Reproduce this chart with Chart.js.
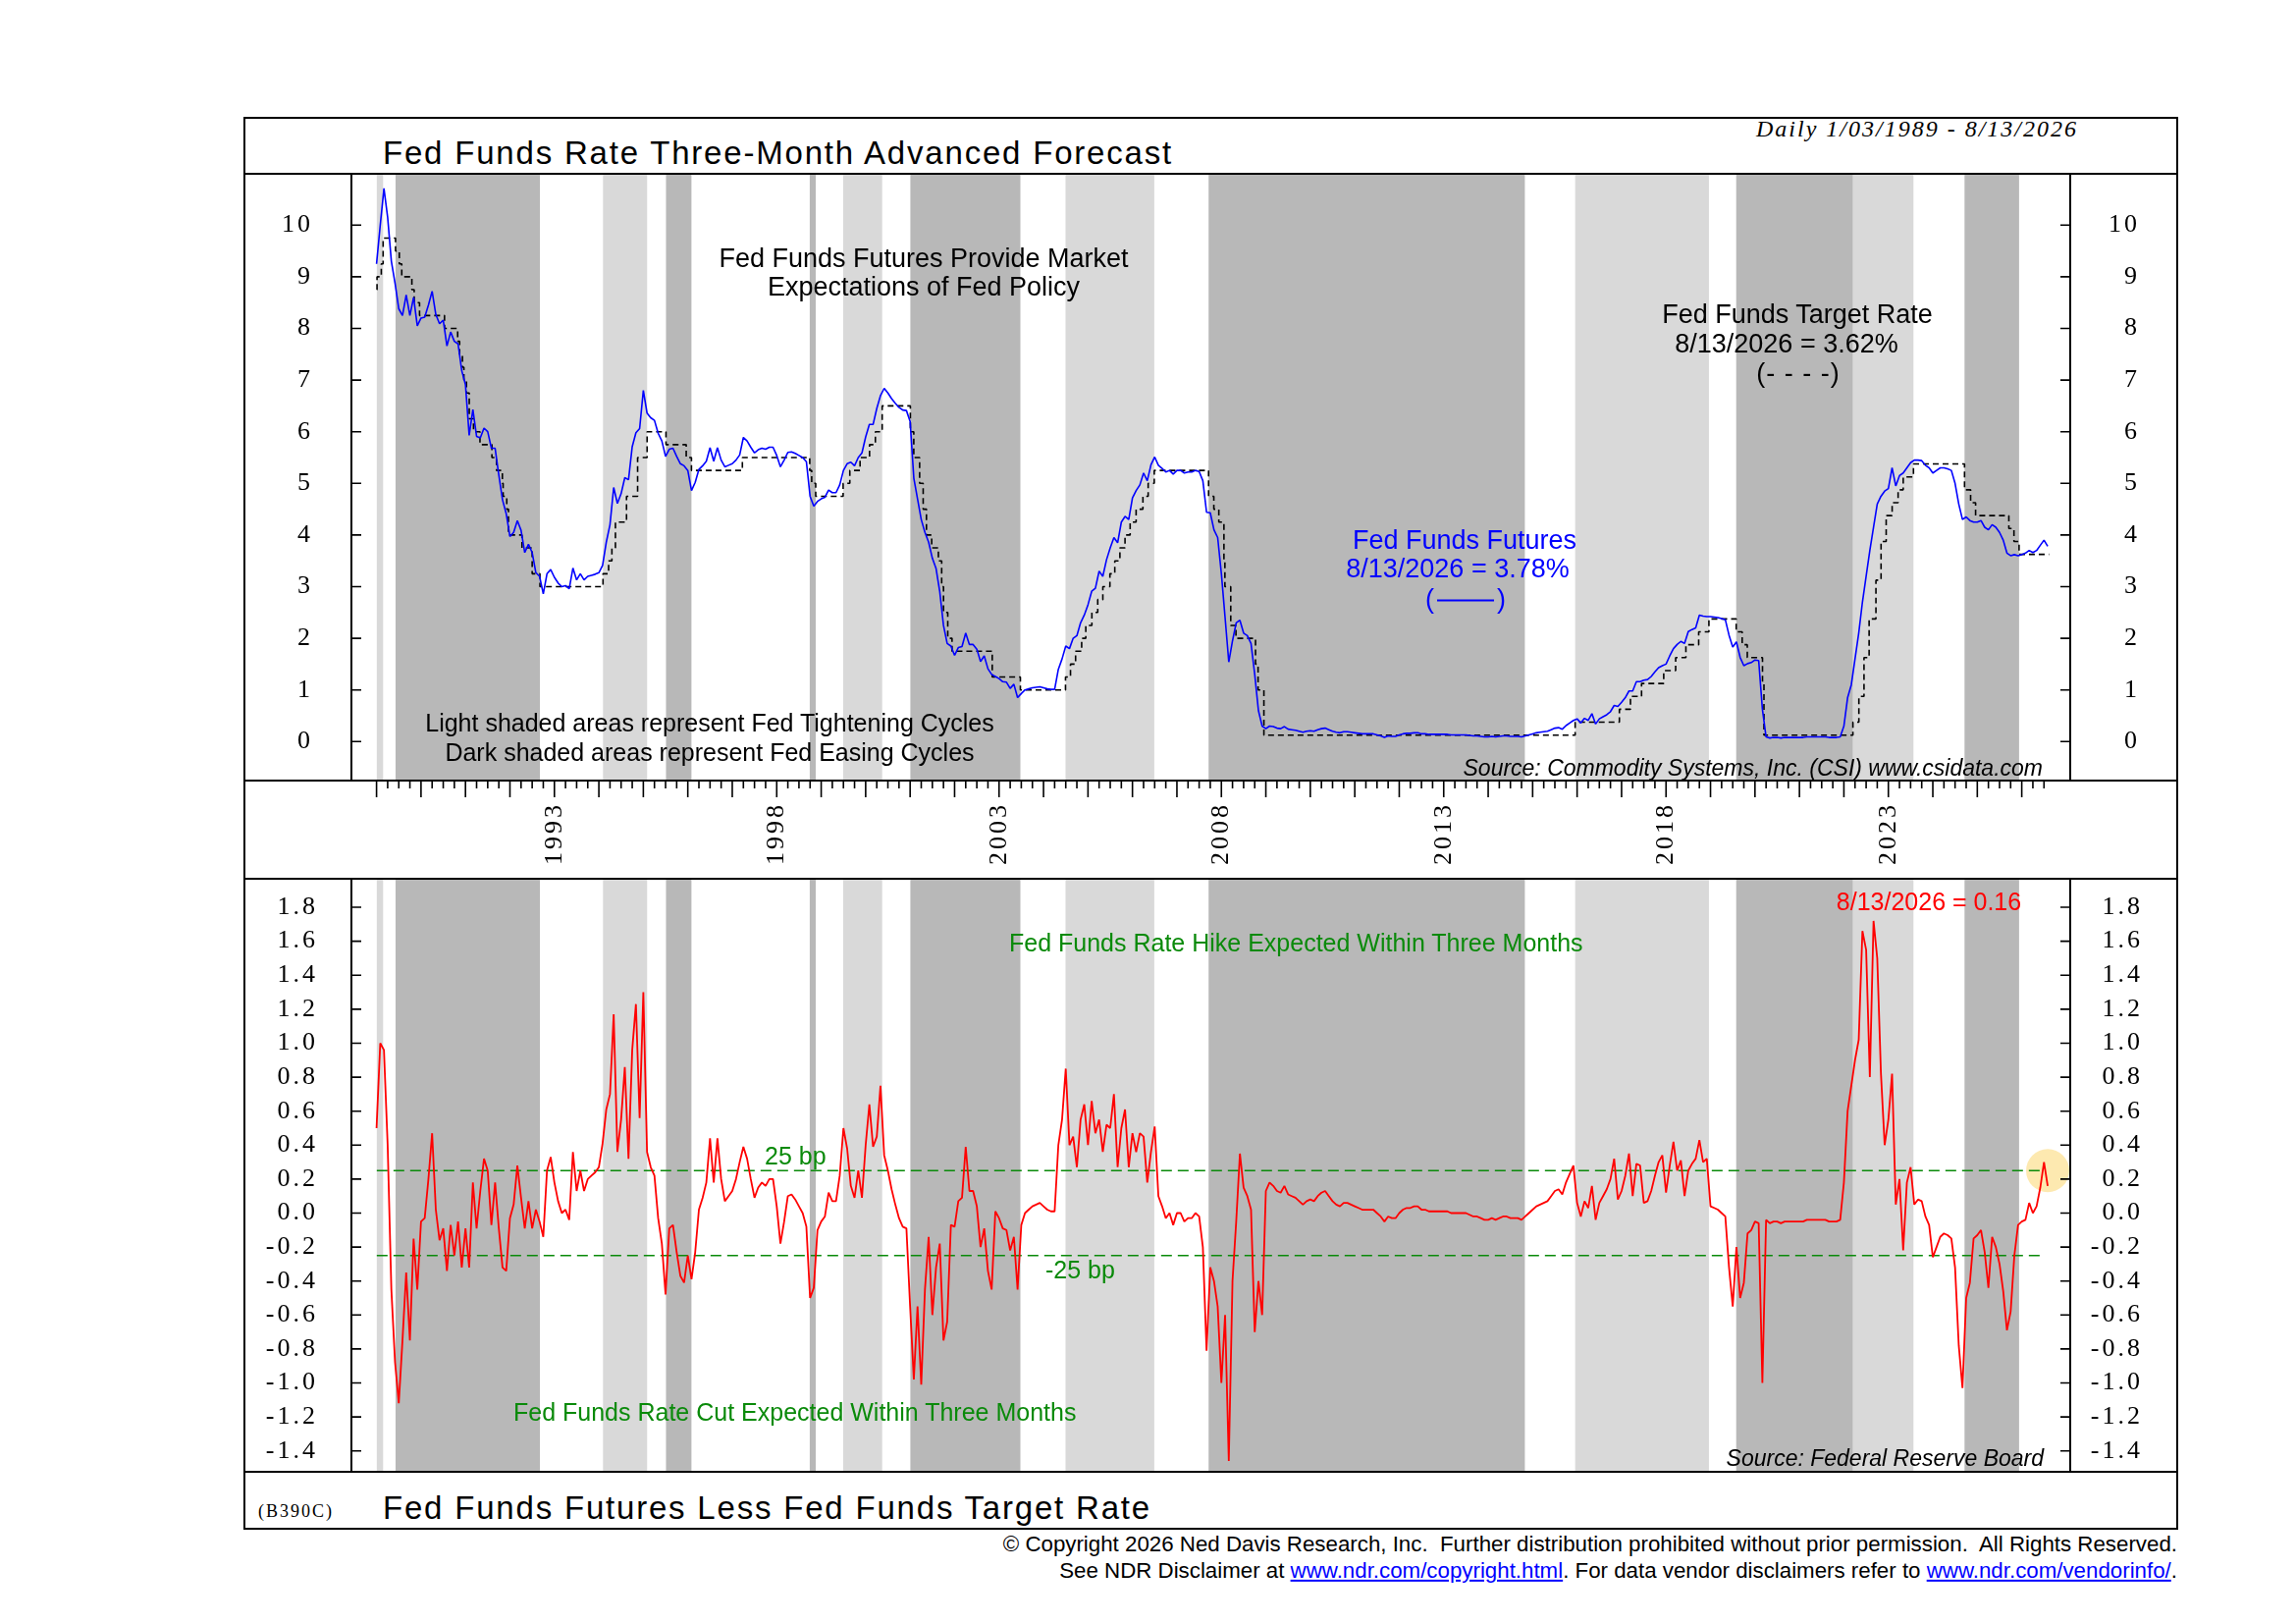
<!DOCTYPE html>
<html><head><meta charset="utf-8">
<script src="https://cdn.jsdelivr.net/npm/chart.js@4.4.1/dist/chart.umd.min.js"></script>
<style>
html,body{margin:0;padding:0;background:#fff;}
#page{position:relative;width:2339px;height:1653px;overflow:hidden;background:#fff;font-family:"Liberation Sans",Arial,sans-serif;color:#000;}
canvas{position:absolute;z-index:1;}
.ln{position:absolute;background:#000;z-index:3;}
.t{position:absolute;white-space:pre;line-height:1;z-index:4;}
.a-c{transform:translate(-50%,-50%);}
.a-r{transform:translate(-100%,-50%);}
.a-l{transform:translate(0,-50%);}
a{color:#0000ff;text-decoration:underline;}
</style></head><body><div id="page">
<canvas id="cTop" width="1969" height="718" style="left:249px;top:177px;width:1969px;height:718px"></canvas>
<canvas id="cBot" width="1969" height="604" style="left:249px;top:895px;width:1969px;height:604px"></canvas>
</div>
<script>
// ---------------- DATA ----------------
const startYear = 1989;          // monthly series start (Jan 1989)
const endDate = '2026-08-13';

// Fed Funds Futures (blue), monthly Jan 1989 .. Aug 2026
const futuresValues = [
9.25,10.00,10.71,10.15,9.30,8.87,8.38,8.25,8.65,8.25,8.60,8.05,
8.20,8.22,8.45,8.72,8.27,8.09,8.16,7.66,7.93,7.75,7.70,7.18,
6.91,5.93,6.43,5.91,5.88,6.07,6.00,5.68,5.68,5.16,4.68,4.41,
3.97,4.05,4.28,4.09,3.66,3.82,3.66,3.27,3.20,2.86,3.25,3.33,
3.18,3.07,3.00,3.02,2.96,3.36,3.13,3.25,3.13,3.20,3.22,3.24,
3.27,3.41,3.86,4.20,4.92,4.61,4.80,5.11,5.07,5.71,5.98,6.06,
6.80,6.36,6.27,6.22,5.97,5.82,5.52,5.66,5.68,5.52,5.38,5.34,
5.25,4.86,5.02,5.27,5.34,5.43,5.69,5.43,5.69,5.45,5.32,5.35,
5.38,5.45,5.55,5.89,5.82,5.70,5.59,5.65,5.68,5.66,5.70,5.70,
5.54,5.32,5.45,5.60,5.61,5.58,5.54,5.50,5.42,4.75,4.56,4.65,
4.70,4.73,4.87,4.82,4.82,4.97,5.25,5.38,5.41,5.34,5.50,5.59,
5.90,6.14,6.14,6.45,6.70,6.84,6.75,6.64,6.55,6.47,6.42,6.41,
6.20,5.10,4.70,4.30,4.05,3.86,3.55,3.35,2.90,2.25,1.90,1.85,
1.67,1.82,1.84,2.10,1.88,1.88,1.79,1.55,1.66,1.41,1.30,1.26,
1.22,1.16,1.15,1.03,1.11,0.85,0.93,1.00,1.02,1.04,1.05,1.06,
1.04,1.02,1.01,1.01,1.40,1.60,1.85,1.80,2.00,2.05,2.30,2.45,
2.65,2.91,2.97,3.30,3.20,3.52,3.75,3.95,3.85,4.25,4.36,4.30,
4.72,4.86,4.97,5.20,5.05,5.36,5.51,5.35,5.29,5.22,5.25,5.18,
5.25,5.25,5.20,5.22,5.22,5.25,5.23,5.05,4.44,4.43,4.10,3.95,
3.25,2.40,1.54,1.95,2.30,2.35,2.10,2.05,1.90,1.30,0.60,0.30,
0.25,0.30,0.29,0.26,0.25,0.29,0.24,0.23,0.22,0.20,0.18,0.20,
0.21,0.20,0.23,0.25,0.26,0.23,0.20,0.18,0.17,0.19,0.19,0.18,
0.17,0.16,0.15,0.15,0.15,0.15,0.13,0.11,0.08,0.11,0.10,0.10,
0.13,0.15,0.16,0.16,0.17,0.17,0.15,0.15,0.14,0.14,0.14,0.14,
0.14,0.14,0.13,0.13,0.13,0.13,0.13,0.12,0.11,0.11,0.10,0.09,
0.09,0.10,0.09,0.10,0.11,0.11,0.10,0.10,0.10,0.09,0.11,0.13,
0.15,0.17,0.18,0.19,0.20,0.23,0.26,0.27,0.24,0.31,0.36,0.41,
0.44,0.36,0.45,0.41,0.54,0.34,0.44,0.48,0.52,0.58,0.70,0.68,
0.76,0.85,0.98,0.98,1.16,1.16,1.19,1.20,1.26,1.35,1.43,1.47,
1.50,1.66,1.80,1.88,1.94,1.90,2.13,2.17,2.20,2.45,2.43,2.42,
2.42,2.41,2.40,2.38,2.36,2.06,1.83,1.93,1.63,1.47,1.51,1.53,
1.58,1.57,0.63,0.09,0.07,0.08,0.08,0.07,0.08,0.08,0.08,0.08,
0.08,0.08,0.09,0.09,0.09,0.09,0.09,0.09,0.08,0.08,0.08,0.09,
0.30,0.85,1.10,1.60,2.10,2.70,3.20,3.70,4.15,4.60,4.75,4.85,
4.90,5.30,4.95,5.15,5.20,5.30,5.40,5.45,5.45,5.44,5.35,5.30,
5.20,5.25,5.30,5.30,5.28,5.25,5.00,4.60,4.30,4.35,4.28,4.25,
4.25,4.28,4.15,4.10,4.20,4.15,4.05,3.90,3.65,3.60,3.62,3.60,
3.62,3.65,3.70,3.66,3.70,3.80,3.90,3.78
];

// Fed Funds Futures less Target Rate (red), monthly Jan 1989 .. Aug 2026
const diffValues = [
0.50,1.00,0.96,0.40,-0.45,-0.88,-1.12,-0.75,-0.35,-0.75,-0.15,-0.45,
-0.05,-0.03,0.20,0.47,0.02,-0.16,-0.09,-0.34,-0.07,-0.25,-0.05,-0.32,
-0.09,-0.32,0.18,-0.09,0.13,0.32,0.25,-0.07,0.18,-0.09,-0.32,-0.34,
-0.03,0.05,0.28,0.09,-0.09,0.07,-0.09,0.02,-0.05,-0.14,0.25,0.33,
0.18,0.07,0.00,0.02,-0.04,0.36,0.13,0.25,0.13,0.20,0.22,0.24,
0.27,0.41,0.61,0.70,1.17,0.36,0.55,0.86,0.32,0.96,1.23,0.56,
1.30,0.36,0.27,0.22,-0.03,-0.18,-0.48,-0.09,-0.07,-0.23,-0.37,-0.41,
-0.25,-0.39,-0.23,0.02,0.09,0.18,0.44,0.18,0.44,0.20,0.07,0.10,
0.13,0.20,0.30,0.39,0.32,0.20,0.09,0.15,0.18,0.16,0.20,0.20,
0.04,-0.18,-0.05,0.10,0.11,0.08,0.04,0.00,-0.08,-0.50,-0.44,-0.10,
-0.05,-0.02,0.12,0.07,0.07,0.22,0.50,0.38,0.16,0.09,0.25,0.09,
0.40,0.64,0.39,0.45,0.75,0.34,0.25,0.14,0.05,-0.03,-0.08,-0.09,
-0.55,-0.98,-0.55,-1.01,-0.45,-0.14,-0.60,-0.32,-0.18,-0.75,-0.64,-0.07,
-0.08,0.07,0.09,0.39,0.13,0.13,0.04,-0.20,-0.09,-0.34,-0.45,0.01,
-0.03,-0.09,-0.10,-0.22,-0.14,-0.45,-0.07,0.00,0.02,0.04,0.05,0.06,
0.04,0.02,0.01,0.01,0.40,0.55,0.85,0.40,0.45,0.27,0.55,0.64,
0.40,0.66,0.47,0.55,0.36,0.52,0.50,0.70,0.27,0.50,0.61,0.27,
0.47,0.36,0.47,0.45,0.18,0.36,0.51,0.10,0.04,-0.03,0.00,-0.07,
0.00,0.00,-0.05,-0.03,-0.03,0.00,-0.02,-0.20,-0.81,-0.32,-0.40,-0.55,
-1.00,-0.60,-1.46,-0.40,-0.05,0.35,0.15,0.10,0.02,-0.70,-0.40,-0.60,
0.13,0.18,0.16,0.13,0.12,0.16,0.11,0.10,0.09,0.07,0.05,0.07,
0.08,0.07,0.10,0.12,0.13,0.10,0.07,0.05,0.04,0.06,0.06,0.05,
0.04,0.03,0.02,0.02,0.02,0.02,0.00,-0.02,-0.05,-0.02,-0.03,-0.03,
0.00,0.02,0.03,0.03,0.04,0.04,0.02,0.02,0.01,0.01,0.01,0.01,
0.01,0.01,0.00,0.00,0.00,0.00,0.00,-0.01,-0.02,-0.02,-0.03,-0.04,
-0.04,-0.03,-0.04,-0.03,-0.02,-0.02,-0.03,-0.03,-0.03,-0.04,-0.02,0.00,
0.02,0.04,0.05,0.06,0.07,0.10,0.13,0.14,0.11,0.18,0.23,0.28,
0.06,-0.02,0.07,0.03,0.16,-0.04,0.06,0.10,0.14,0.20,0.32,0.08,
0.13,0.22,0.35,0.10,0.29,0.28,0.06,0.07,0.13,0.22,0.30,0.34,
0.12,0.28,0.42,0.25,0.31,0.10,0.25,0.29,0.32,0.43,0.30,0.32,
0.04,0.03,0.02,0.00,-0.02,-0.32,-0.55,-0.20,-0.50,-0.41,-0.12,-0.10,
-0.05,-0.06,-1.00,-0.04,-0.06,-0.05,-0.05,-0.06,-0.05,-0.05,-0.05,-0.05,
-0.05,-0.05,-0.04,-0.04,-0.04,-0.04,-0.04,-0.04,-0.05,-0.05,-0.05,-0.04,
0.18,0.60,0.75,0.90,1.02,1.66,1.55,0.80,1.72,1.50,0.82,0.40,
0.55,0.82,0.05,0.20,-0.22,0.18,0.27,0.05,0.08,0.07,-0.02,-0.07,
-0.26,-0.20,-0.14,-0.12,-0.13,-0.15,-0.32,-0.78,-1.03,-0.50,-0.41,-0.15,
-0.13,-0.10,-0.23,-0.44,-0.14,-0.20,-0.30,-0.46,-0.69,-0.58,-0.25,-0.07,
-0.05,-0.04,0.06,0.00,0.04,0.15,0.30,0.16
];

// Fed Funds Target Rate (dashed step line): effective dates and levels
const targetDates = ['1989-01-03','1989-01-05','1989-02-09','1989-02-24','1989-06-06','1989-07-07','1989-07-27','1989-10-18','1989-11-06','1989-12-20',
'1990-07-13','1990-10-29','1990-11-14','1990-12-07','1990-12-19','1991-01-09','1991-02-01','1991-03-08','1991-04-30','1991-08-06','1991-09-13',
'1991-10-31','1991-11-06','1991-12-06','1991-12-20','1992-04-09','1992-07-02','1992-09-04','1994-02-04','1994-03-22','1994-04-18','1994-05-17',
'1994-08-16','1994-11-15','1995-02-01','1995-07-06','1995-12-19','1996-01-31','1997-03-25','1998-09-29','1998-10-15','1998-11-17','1999-06-30',
'1999-08-24','1999-11-16','2000-02-02','2000-03-21','2000-05-16','2001-01-03','2001-01-31','2001-03-20','2001-04-18','2001-05-15','2001-06-27',
'2001-08-21','2001-09-17','2001-10-02','2001-11-06','2001-12-11','2002-11-06','2003-06-25','2004-06-30','2004-08-10','2004-09-21','2004-11-10',
'2004-12-14','2005-02-02','2005-03-22','2005-05-03','2005-06-30','2005-08-09','2005-09-20','2005-11-01','2005-12-13','2006-01-31','2006-03-28',
'2006-05-10','2006-06-29','2007-09-18','2007-10-31','2007-12-11','2008-01-22','2008-01-30','2008-03-18','2008-04-30','2008-10-08','2008-10-29',
'2008-12-16','2015-12-16','2016-12-14','2017-03-15','2017-06-14','2017-12-13','2018-03-21','2018-06-13','2018-09-26','2018-12-19','2019-07-31',
'2019-09-18','2019-10-30','2020-03-03','2020-03-15','2022-03-16','2022-05-04','2022-06-15','2022-07-27','2022-09-21','2022-11-02','2022-12-14',
'2023-02-01','2023-03-22','2023-05-03','2023-07-26','2024-09-18','2024-11-07','2024-12-18','2025-09-17','2025-10-29','2025-12-10','2026-08-13'];
const targetRates = [8.75,9.00,9.25,9.75,9.50,9.25,9.00,8.75,8.50,8.25,
8.00,7.75,7.50,7.25,7.00,6.75,6.25,6.00,5.75,5.50,5.25,
5.00,4.75,4.50,4.00,3.75,3.25,3.00,3.25,3.50,3.75,4.25,
4.75,5.50,6.00,5.75,5.50,5.25,5.50,5.25,5.00,4.75,5.00,
5.25,5.50,5.75,6.00,6.50,6.00,5.50,5.00,4.50,4.00,3.75,
3.50,3.00,2.50,2.00,1.75,1.25,1.00,1.25,1.50,1.75,2.00,
2.25,2.50,2.75,3.00,3.25,3.50,3.75,4.00,4.25,4.50,4.75,
5.00,5.25,4.75,4.50,4.25,3.50,3.00,2.25,2.00,1.50,1.00,
0.125,0.375,0.625,0.875,1.125,1.375,1.625,1.875,2.125,2.375,2.125,
1.875,1.625,1.125,0.125,0.375,0.875,1.625,2.375,3.125,3.875,4.375,
4.625,4.875,5.125,5.375,4.875,4.625,4.375,4.125,3.875,3.625,3.625];

// Shaded cycles
const tighteningStarts = ['1989-01-03','1994-02-04','1999-06-30','2004-06-30','2015-12-16','2022-03-16'];
const tighteningEnds   = ['1989-02-24','1995-02-01','2000-05-16','2006-06-29','2018-12-19','2023-07-26'];
const easingStarts = ['1989-06-06','1995-07-06','1998-09-29','2001-01-03','2007-09-18','2019-07-31','2024-09-18'];
const easingEnds   = ['1992-09-04','1996-01-31','1998-11-17','2003-06-25','2014-10-29','2022-03-16','2025-12-10'];

// Tick labels
const upperTickValues = [0,1,2,3,4,5,6,7,8,9,10];
const lowerTickValues = [-1.4,-1.2,-1.0,-0.8,-0.6,-0.4,-0.2,0.0,0.2,0.4,0.6,0.8,1.0,1.2,1.4,1.6,1.8];
const yearLabelYears = [1993,1998,2003,2008,2013,2018,2023];
const bpLevels = [0.25,-0.25];
const bpStart = '1989-01-03', bpEnd = '2026-07-01';
const highlightLevel = 0.25;

// ---------------- HELPERS ----------------
function dec(s){const [y,m,d]=s.split('-').map(Number);const t0=Date.UTC(y,0,1),t1=Date.UTC(y+1,0,1);return y+(Date.UTC(y,m-1,d)-t0)/(t1-t0);}
const monthX = i => startYear + i/12;
const X_MIN = 1988.435, X_MAX = 2027.09;
const yearTicks = []; for (let y = startYear; y <= 2026; y++) yearTicks.push(y);
const SERIF = '"Liberation Serif","Times New Roman",serif';

const page = document.getElementById('page');
function hl(y,x1,x2){const d=document.createElement('div');d.className='ln';d.style.cssText=`left:${x1-1}px;top:${y-1}px;width:${x2-x1+2}px;height:2px`;page.appendChild(d);}
function vl(x,y1,y2){const d=document.createElement('div');d.className='ln';d.style.cssText=`left:${x-1}px;top:${y1-1}px;width:2px;height:${y2-y1+2}px`;page.appendChild(d);}
// frame
hl(120,249,2218); hl(1557,249,2218); vl(249,120,1557); vl(2218,120,1557);
hl(177,249,2218); hl(795,249,2218); hl(895,249,2218); hl(1499,249,2218);
vl(358,177,795); vl(2109,177,795); vl(358,895,1499); vl(2109,895,1499);

function txt(html,x,y,o){const d=document.createElement('div');d.className='t a-'+(o.a||'c');d.innerHTML=html;
 d.style.left=x+'px';d.style.top=y+'px';d.style.fontSize=(o.s||27)+'px';d.style.color=o.c||'#000';
 if(o.f)d.style.fontFamily=o.f; if(o.i)d.style.fontStyle='italic'; if(o.ls)d.style.letterSpacing=o.ls+'px';
 page.appendChild(d);}
const BLUE='#0000ff', RED='#ff0000', GREEN='#0a8a0a';
txt('Fed Funds Rate Three-Month Advanced Forecast',390,155,{a:'l',s:33,ls:1.8});
txt('Daily 1/03/1989 - 8/13/2026',2117,131,{a:'r',s:24,f:SERIF,i:1,ls:2});
txt('Fed Funds Futures Provide Market',941,263,{});
txt('Expectations of Fed Policy',941,292,{});
txt('Fed Funds Target Rate',1831,320,{});
txt('8/13/2026 = 3.62%',1820,350,{});
txt('(- - - -)',1832,380,{ls:1});
txt('Fed Funds Futures',1492,550,{c:BLUE});
txt('8/13/2026 = 3.78%',1485,579,{c:BLUE});
txt('(<span style="display:inline-block;width:58px;border-top:2px solid #0000ff;vertical-align:middle;margin:0 3px"></span>)',1493,610,{c:BLUE});
txt('Light shaded areas represent Fed Tightening Cycles',723,736,{s:25});
txt('Dark shaded areas represent Fed Easing Cycles',723,766,{s:25});
txt('Source: Commodity Systems, Inc. (CSI) www.csidata.com',2081,782,{a:'r',s:23,i:1});
txt('8/13/2026 = 0.16',1965,918,{s:25,c:RED});
txt('Fed Funds Rate Hike Expected Within Three Months',1028,960,{a:'l',s:25,c:GREEN});
txt('25 bp',779,1177,{a:'l',s:25,c:GREEN});
txt('-25 bp',1065,1293,{a:'l',s:25,c:GREEN});
txt('Fed Funds Rate Cut Expected Within Three Months',523,1438,{a:'l',s:25,c:GREEN});
txt('Source: Federal Reserve Board',2082,1485,{a:'r',s:23,i:1});
txt('(B390C)',263,1539,{a:'l',s:18,f:SERIF,ls:2});
txt('Fed Funds Futures Less Fed Funds Target Rate',390,1535,{a:'l',s:33,ls:1.8});
txt('© Copyright 2026 Ned Davis Research, Inc.  Further distribution prohibited without prior permission.  All Rights Reserved.',2218,1573,{a:'r',s:22.3});
txt('See NDR Disclaimer at <a>www.ndr.com/copyright.html</a>. For data vendor disclaimers refer to <a>www.ndr.com/vendorinfo/</a>.',2218,1600,{a:'r',s:22.3});

// ---------------- PLUGINS ----------------
const bandsPlugin = {id:'bands', beforeDatasetsDraw(chart){
  const {ctx, chartArea:a, scales:{x}} = chart; ctx.save();
  const draw=(s,e,col)=>s.forEach((d,i)=>{const x1=x.getPixelForValue(dec(d)),x2=x.getPixelForValue(dec(e[i]));ctx.fillStyle=col;ctx.fillRect(x1,a.top,x2-x1,a.bottom-a.top);});
  draw(tighteningStarts,tighteningEnds,'#d9d9d9'); draw(easingStarts,easingEnds,'#b8b8b8'); ctx.restore(); }};
const tickPlugin = {id:'tickmarks', afterDraw(chart,args,opts){
  const {ctx, chartArea:a, scales} = chart; ctx.save(); ctx.strokeStyle='#000'; ctx.lineWidth=1.6; ctx.beginPath();
  const ys = scales.y;
  ys.ticks.forEach(t=>{const py=ys.getPixelForValue(t.value);ctx.moveTo(a.left,py);ctx.lineTo(a.left+10,py);ctx.moveTo(a.right-10,py);ctx.lineTo(a.right,py);});
  if (opts && opts.xTicks){ const xs=scales.x; for(let q=0;q<=150;q++){const px=xs.getPixelForValue(startYear+q/4);const len=q%4===0?17:8;ctx.moveTo(px,a.bottom);ctx.lineTo(px,a.bottom+len);} }
  ctx.stroke(); ctx.restore(); }};
const spacingPlugin = {id:'spacing', beforeUpdate(c){c.ctx.letterSpacing='3px';}, beforeDraw(c){c.ctx.letterSpacing='3px';}};

function yAxis(pos,min,max,vals,pad,dec1,width){
  return {type:'linear',position:pos,min,max,
    grid:{display:false,drawTicks:false},border:{display:false},
    afterBuildTicks:s=>{s.ticks=vals.map(v=>({value:v}));},
    afterFit:s=>{s.width=width;s.paddingTop=0;s.paddingBottom=0;},
    ticks:{padding:pad,crossAlign:pos==='left'?'near':'far',color:'#000',font:{family:SERIF,size:26},
      callback:v=>dec1?v.toFixed(1):String(v)}};
}
const lineBase = {pointRadius:0,tension:0,borderJoinStyle:'bevel',fill:false};

// ---------------- UPPER CHART ----------------
new Chart(document.getElementById('cTop'),{
  type:'line',
  data:{datasets:[
    Object.assign({label:'Fed Funds Futures',data:futuresValues.map((v,i)=>({x:monthX(i),y:v})),borderColor:BLUE,borderWidth:1.6,order:0},lineBase),
    Object.assign({label:'Fed Funds Target Rate',data:targetDates.map((d,i)=>({x:dec(d),y:targetRates[i]})),borderColor:'#000',borderWidth:1.6,borderDash:[6,4],stepped:'before',order:1},lineBase)
  ]},
  options:{responsive:false,animation:false,devicePixelRatio:1,
    layout:{autoPadding:false,padding:{left:0,right:38,top:0,bottom:0}},
    plugins:{legend:{display:false},tooltip:{enabled:false},tickmarks:{xTicks:true}},
    scales:{
      x:{type:'linear',min:X_MIN,max:X_MAX,grid:{display:false,drawTicks:false},border:{display:false},
        afterBuildTicks:s=>{s.ticks=yearTicks.map(v=>({value:v}));},
        afterFit:s=>{s.height=100;s.paddingLeft=0;s.paddingRight=0;},
        ticks:{autoSkip:false,minRotation:90,maxRotation:90,padding:22,color:'#000',font:{family:SERIF,size:26},
          callback:v=>yearLabelYears.includes(Math.round(v))?String(Math.round(v)):''}},
      y:yAxis('left',-0.755,10.994,upperTickValues,39,false,109),
      y2:yAxis('right',-0.755,10.994,upperTickValues,0,false,71)
    }},
  plugins:[spacingPlugin,bandsPlugin,tickPlugin]
});

// ---------------- LOWER CHART ----------------
const lastX = monthX(diffValues.length-1);
new Chart(document.getElementById('cBot'),{
  type:'line',
  data:{datasets:[
    Object.assign({label:'Futures less Target',data:diffValues.map((v,i)=>({x:monthX(i),y:v})),borderColor:RED,borderWidth:1.8,order:0},lineBase),
    ...bpLevels.map(l=>Object.assign({label:'bp',data:[{x:dec(bpStart),y:l},{x:dec(bpEnd),y:l}],borderColor:GREEN,borderWidth:1.3,borderDash:[11,6],order:1},lineBase)),
    {label:'latest',data:[{x:lastX,y:highlightLevel}],showLine:false,pointRadius:22,pointBackgroundColor:'#fde9b0',pointBorderWidth:0,order:2}
  ]},
  options:{responsive:false,animation:false,devicePixelRatio:1,
    layout:{autoPadding:false,padding:{left:0,right:35,top:0,bottom:0}},
    plugins:{legend:{display:false},tooltip:{enabled:false},tickmarks:{xTicks:false}},
    scales:{
      x:{type:'linear',min:X_MIN,max:X_MAX,display:false},
      y:yAxis('left',-1.523,1.968,lowerTickValues,34,true,109),
      y2:yAxis('right',-1.523,1.968,lowerTickValues,0,true,74)
    }},
  plugins:[spacingPlugin,bandsPlugin,tickPlugin]
});
</script>
</body></html>
